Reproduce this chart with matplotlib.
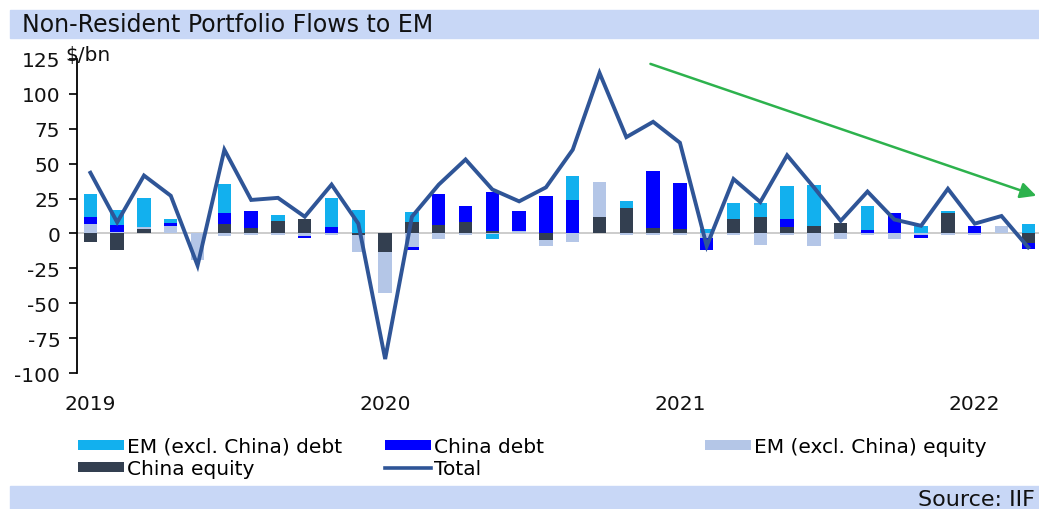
import numpy as np
import pandas as pd
import matplotlib
matplotlib.use("Agg")
import matplotlib.pyplot as plt
from matplotlib.patches import Patch, Rectangle
from matplotlib.lines import Line2D

plt.rcParams['font.family'] = ['DejaVu Sans']
plt.rcParams['axes.unicode_minus'] = False

# monthly flows, $bn, Apr 2019 - Mar 2022
months = pd.period_range('2019-04', '2022-03', freq='M')

em_debt = [16.7, 11, 21, 3, 0, 21, 0, 4, 0, 21, 17, 0,
           7.5, 0, 0, -3, 0, 0, 17.5, 0, 4.5, 0, 0, 3,
           12, 10.5, 24, 29.5, 0, 17.5, 0, 5, 1.5, 0, 0, 7]
china_debt = [4.5, 5, 0, 2.5, 0, 7.5, 12, 0, -1.5, 4.5, 0, 0,
              -2.5, 22.5, 11.5, 28, 14.5, 26.5, 24, 0, 0, 41, 33, -9,
              0, 0, 5.5, 0, 0, 2.5, 14.5, -2.5, 0, 5.5, 0, -5]
em_equity = [7, 1, 1.5, 5, -19, -2, -1, -1, -1.5, -1, -12, -29,
             -9.5, -4, -1, -0.7, 1.5, -4, -6, 25, -1, -1, -1, -3,
             -1, -8, -1, -9, -4, -1, -4, -1, -1, -1, 5.5, 0]
china_equity = [-6, -12, 3, 0, 0, 7, 4, 9, 10, 0, -1, -13.5,
                8, 6, 8.5, 2, 0, -5, 0, 12, 18.5, 4, 3, 0,
                10, 11.5, 4.5, 5, 7.5, 0, 0, 0, 14.5, 0, 0, -6.5]
total = [43.5, 8, 41.5, 27, -23, 60, 24, 25.5, 12, 35, 7, -90,
         12, 35, 53, 31.5, 23, 33, 60, 115, 69, 80, 65, -9,
         39, 22.5, 56, 33, 9, 30, 10, 5.5, 32, 7, 12.5, -10]

tick_pos = [0, 11, 22, 33]
tick_labels = [str(months[i].year) for i in tick_pos]

c_em_debt = '#12b0ee'
c_china_debt = '#0000ff'
c_em_eq = '#b4c6e7'
c_china_eq = '#333f50'
c_total = '#2f5597'
band = '#c8d7f6'

fig = plt.figure(figsize=(10.39, 5.10), dpi=100)
W, H = 1039, 510

ax = fig.add_axes([77 / W, 1 - 374 / H, (W - 77) / W, (374 - 60) / H])
x = np.arange(len(months))

# stacked columns: positives build up, negatives build down
series = [(china_equity, c_china_eq), (em_equity, c_em_eq),
          (china_debt, c_china_debt), (em_debt, c_em_debt)]
pos_base = np.zeros(len(x))
neg_base = np.zeros(len(x))
for vals, col in series:
    v = np.array(vals, dtype=float)
    base = np.where(v >= 0, pos_base, neg_base)
    ax.bar(x, v, 0.5, bottom=base, color=col, zorder=2)
    pos_base += np.clip(v, 0, None)
    neg_base += np.clip(v, None, 0)

ax.axhline(0, color='#c8c8c8', lw=1.3, zorder=1)
ax.plot(x, total, color=c_total, lw=2.8, zorder=4, solid_joinstyle='miter')

ax.annotate('', xy=(35.3, 27), xytext=(20.9, 121.5), annotation_clip=False,
            arrowprops=dict(arrowstyle='-|>', color='#2db24d', lw=1.8,
                            mutation_scale=24, shrinkA=0, shrinkB=0))

ax.set_xlim(-0.5, 35.4)
ax.set_ylim(-100, 125)
ax.set_yticks(np.arange(-100, 126, 25))
ax.set_xticks(tick_pos)
ax.set_xticklabels(tick_labels)
for s in ['top', 'right', 'bottom']:
    ax.spines[s].set_visible(False)
ax.spines['left'].set_linewidth(1.3)
ax.tick_params(axis='y', direction='out', length=6, width=1.3, pad=6,
               labelsize=14.5, colors='#111111')
ax.tick_params(axis='x', length=0, pad=15, labelsize=14.5, colors='#111111')
ax.patch.set_alpha(0)

fig.text(65 / W, 1 - 56 / H, '$/bn', fontsize=14.5, va='center', ha='left',
         color='#111111')

# title and source bands
fig.patches.append(Rectangle((10 / W, 1 - 39 / H), 1, 28 / H, transform=fig.transFigure,
                             color=band, zorder=0))
fig.text(22 / W, 1 - 25 / H, 'Non-Resident Portfolio Flows to EM', fontsize=17,
         va='center', ha='left', color='#111111')
fig.patches.append(Rectangle((10 / W, 0), 1, 23 / H, transform=fig.transFigure,
                             color=band, zorder=0))
fig.text(1035 / W, 1 - 500 / H, 'Source: IIF', fontsize=16, va='center', ha='right',
         color='#111111')

# legend in three columns
def patch(c):
    return Patch(facecolor=c, edgecolor='none')

cols = [
    (78, [patch(c_em_debt), patch(c_china_eq)], ['EM (excl. China) debt', 'China equity']),
    (385, [patch(c_china_debt), Line2D([], [], color=c_total, lw=2.6)], ['China debt', 'Total']),
    (705, [patch(c_em_eq)], ['EM (excl. China) equity']),
]
for x0, hs, ls in cols:
    fig.legend(hs, ls, loc='upper left', bbox_to_anchor=(x0 / W, 1 - 438 / H),
               frameon=False, fontsize=14.5, handlelength=2.3, handleheight=0.4,
               handletextpad=0.15, labelspacing=0.15, borderpad=0, borderaxespad=0)

fig.savefig('out.png', dpi=100)
